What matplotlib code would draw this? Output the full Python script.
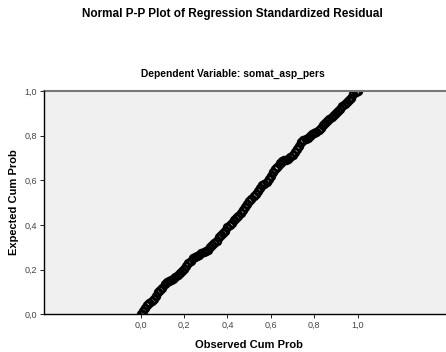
import numpy as np
import matplotlib.pyplot as plt

# observed vs expected cumulative probabilities
observed = [0.00, 0.01, 0.02, 0.03, 0.04, 0.05, 0.06, 0.07, 0.08, 0.09,
            0.10, 0.11, 0.12, 0.13, 0.14, 0.15, 0.16, 0.17, 0.18, 0.19,
            0.20, 0.21, 0.22, 0.23, 0.24, 0.25, 0.26, 0.27, 0.28, 0.29,
            0.30, 0.31, 0.32, 0.33, 0.34, 0.35, 0.36, 0.37, 0.38, 0.39,
            0.40, 0.41, 0.42, 0.43, 0.44, 0.45, 0.46, 0.47, 0.48, 0.49,
            0.50, 0.51, 0.52, 0.53, 0.54, 0.55, 0.56, 0.57, 0.58, 0.59,
            0.60, 0.61, 0.62, 0.63, 0.64, 0.65, 0.66, 0.67, 0.68, 0.69,
            0.70, 0.71, 0.72, 0.73, 0.74, 0.75, 0.76, 0.77, 0.78, 0.79,
            0.80, 0.81, 0.82, 0.83, 0.84, 0.85, 0.86, 0.87, 0.88, 0.89,
            0.90, 0.91, 0.92, 0.93, 0.94, 0.95, 0.96, 0.97, 0.98, 0.99,
            1.00]
expected = [0.000, 0.015, 0.030, 0.040, 0.050, 0.060, 0.070, 0.080, 0.100, 0.110,
            0.120, 0.135, 0.145, 0.150, 0.155, 0.160, 0.165, 0.175, 0.185, 0.195,
            0.205, 0.215, 0.230, 0.240, 0.250, 0.255, 0.260, 0.265, 0.275, 0.280,
            0.285, 0.290, 0.300, 0.310, 0.320, 0.330, 0.345, 0.355, 0.365, 0.375,
            0.390, 0.400, 0.410, 0.420, 0.430, 0.440, 0.455, 0.465, 0.480, 0.495,
            0.505, 0.515, 0.530, 0.540, 0.550, 0.565, 0.580, 0.585, 0.590, 0.605,
            0.620, 0.635, 0.650, 0.660, 0.675, 0.685, 0.690, 0.690, 0.695, 0.705,
            0.715, 0.725, 0.740, 0.755, 0.770, 0.780, 0.785, 0.790, 0.800, 0.805,
            0.810, 0.815, 0.825, 0.835, 0.845, 0.855, 0.865, 0.875, 0.885, 0.890,
            0.900, 0.910, 0.920, 0.930, 0.940, 0.950, 0.960, 0.970, 0.985, 0.995,
            1.000]
ticks = [0.0, 0.2, 0.4, 0.6, 0.8, 1.0]
tick_labels = ['0,0', '0,2', '0,4', '0,6', '0,8', '1,0']

plt.rcParams['font.family'] = ['Liberation Sans', 'DejaVu Sans']

fig = plt.figure(figsize=(4.46, 3.52), dpi=100)
ax = fig.add_axes([0.0987, 0.107, 0.9013, 0.635])
ax.set_facecolor('#f0f0f0')

ax.plot([0, 1], [0, 1], color='black', lw=0.6)
ax.plot(observed, expected, 'o', ms=5, mfc='none', mec='black', mew=1.8)

ax.set_xlim(-0.4456, 1.407)
ax.set_ylim(0, 1)
ax.set_xticks(ticks)
ax.set_xticklabels(tick_labels)
ax.set_yticks(ticks)
ax.set_yticklabels(tick_labels)
ax.tick_params(labelsize=6.5, labelcolor='#444444', length=3, width=0.6, pad=2)

for side in ['left', 'bottom']:
    ax.spines[side].set_color('black')
    ax.spines[side].set_linewidth(1.0)
    ax.spines[side].set_zorder(3)
ax.spines['top'].set_color('#777777')
ax.spines['top'].set_linewidth(1.5)
ax.spines['right'].set_visible(False)

ax.set_xlabel('Observed Cum Prob', fontsize=8, fontweight='bold')
ax.set_ylabel('Expected Cum Prob', fontsize=8, fontweight='bold')
ax.xaxis.set_label_coords(0.51, -0.115)
ax.yaxis.set_label_coords(-0.062, 0.5)

fig.text(0.52, 0.96, 'Normal P-P Plot of Regression Standardized Residual',
         ha='center', va='center', fontsize=8.5, fontweight='bold')
fig.text(0.522, 0.79, 'Dependent Variable: somat_asp_pers',
         ha='center', va='center', fontsize=7.4, fontweight='bold')

fig.savefig('out.png', dpi=100)
